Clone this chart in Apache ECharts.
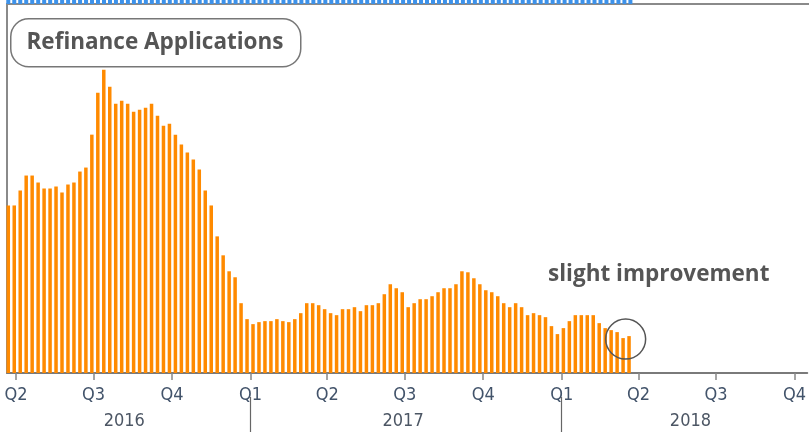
<!DOCTYPE html>
<html>
<head>
<meta charset="utf-8">
<script src="https://cdn.jsdelivr.net/npm/echarts@6.0.0/dist/echarts.min.js"></script>
<style>
  html, body { margin: 0; padding: 0; background: #fff; }
  #main { width: 809px; height: 435px; }
</style>
</head>
<body>
<div id="main"></div>
<script>
// weekly refinance index (relative, y axis hidden), first week 2016-03-23
var firstWeek = [2016, 2, 23];
var refiIndex = [
  840, 840, 915, 990, 990, 955, 925, 925, 935, 905,
  945, 955, 1010, 1030, 1195, 1405, 1520, 1435, 1350, 1365,
  1350, 1310, 1320, 1330, 1350, 1290, 1240, 1250, 1195, 1145,
  1105, 1070, 1020, 915, 840, 685, 590, 510, 480, 350,
  270, 245, 255, 260, 260, 270, 260, 255, 270, 300,
  350, 350, 340, 320, 300, 290, 320, 320, 330, 310,
  340, 340, 350, 395, 445, 425, 405, 330, 350, 370,
  370, 385, 405, 425, 425, 445, 510, 505, 475, 445,
  415, 405, 385, 350, 330, 350, 330, 290, 300, 290,
  280, 235, 195, 225, 260, 290, 290, 290, 290, 250,
  225, 215, 205, 175, 185
];
// bottom edge of the panel above, cut off by the crop
var abovePanel = [
  1, 1, 1, 1, 1, 1, 1, 1, 1, 1, 1, 1, 1, 1, 1,
  1, 1, 1, 1, 1, 1, 1, 1, 1, 1, 1, 1, 1, 1, 1,
  1, 1, 1, 1, 1, 1, 1, 1, 1, 1, 1, 1, 1, 1, 1,
  1, 1, 1, 1, 1, 1, 1, 1, 1, 1, 1, 1, 1, 1, 1,
  1, 1, 1, 1, 1, 1, 1, 1, 1, 1, 1, 1, 1, 1, 1,
  1, 1, 1, 1, 1, 1, 1, 1, 1, 1, 1, 1, 1, 1, 1,
  1, 1, 1, 1, 1, 1, 1, 1, 1, 1, 1, 1, 1, 1, 1
];
var quarterTicks = ['2016-04-01', '2016-07-01', '2016-10-01', '2017-01-01', '2017-04-01', '2017-07-01',
  '2017-10-01', '2018-01-01', '2018-04-01', '2018-07-01', '2018-10-01'];
var yearBreaks = ['2017-01-01', '2018-01-01'];
var yearLabelAt = ['2016-08-06', '2017-06-29', '2018-06-01'];
var circleAt = ['2018-03-17', 170];

function ts(s) { var p = s.split('-'); return new Date(+p[0], +p[1] - 1, +p[2]).getTime(); }

var weeks = [];
for (var i = 0; i < refiIndex.length; i++) {
  weeks.push(new Date(firstWeek[0], firstWeek[1], firstWeek[2] + 7 * i).getTime());
}
var refiData = refiIndex.map(function (v, i) { return [weeks[i], v]; });
var aboveData = abovePanel.map(function (v, i) { return [weeks[i], v]; });

var xMin = new Date(2016, 2, 21, 12).getTime();
var xMax = new Date(2018, 9, 16).getTime();
var labelFont = "'Liberation Sans Narrow', 'DejaVu Sans Condensed', sans-serif";
var noteFont = "bold 22.5px 'Open Sans', sans-serif";

var chart = echarts.init(document.getElementById('main'));
chart.setOption({
  animation: false,
  grid: [
    { left: 7, right: 0, top: 4, bottom: 62 },
    { left: 7, right: 0, top: 0, height: 4 }
  ],
  xAxis: [
    {
      type: 'value', gridIndex: 0, min: xMin, max: xMax,
      axisLine: { lineStyle: { color: '#7a7a7a', width: 2 } },
      axisTick: { show: true, length: 7, customValues: quarterTicks.map(ts), lineStyle: { color: '#888', width: 1.5 } },
      axisLabel: {
        customValues: quarterTicks.map(ts), margin: 13, color: '#42536a', fontSize: 18,
        fontFamily: labelFont,
        formatter: function (v) { return 'Q' + (Math.floor(new Date(v).getMonth() / 3) + 1); }
      },
      splitLine: { show: false }
    },
    {
      type: 'value', gridIndex: 0, min: xMin, max: xMax, position: 'bottom', offset: 24,
      axisLine: { show: false },
      axisTick: { show: true, length: 35, customValues: yearBreaks.map(ts), lineStyle: { color: '#666', width: 1.2 } },
      axisLabel: {
        customValues: yearLabelAt.map(ts), margin: 15, color: '#4c5664', fontSize: 18,
        fontFamily: labelFont,
        formatter: function (v) { return String(new Date(v).getFullYear()); }
      },
      splitLine: { show: false }
    },
    {
      type: 'value', gridIndex: 1, min: xMin, max: xMax,
      axisLine: { lineStyle: { color: '#8a8a8a', width: 2 } },
      axisTick: { show: false }, axisLabel: { show: false }, splitLine: { show: false }
    }
  ],
  yAxis: [
    {
      type: 'value', gridIndex: 0, min: 0, max: 1850,
      axisLine: { show: true, lineStyle: { color: '#8a8a8a', width: 2 } },
      axisTick: { show: false }, axisLabel: { show: false }, splitLine: { show: false }
    },
    {
      type: 'value', gridIndex: 1, min: 0, max: 1,
      axisLine: { show: false }, axisTick: { show: false }, axisLabel: { show: false }, splitLine: { show: false }
    }
  ],
  series: [
    {
      type: 'bar', xAxisIndex: 0, yAxisIndex: 0, data: refiData,
      barWidth: 3.5, itemStyle: { color: '#ff8a00' },
      markPoint: {
        silent: true,
        symbol: 'circle', symbolSize: 40,
        itemStyle: { color: 'rgba(0,0,0,0)', borderColor: '#555', borderWidth: 1.5 },
        label: { show: false },
        data: [{ coord: [ts(circleAt[0]), circleAt[1]] }]
      }
    },
    {
      type: 'bar', xAxisIndex: 2, yAxisIndex: 1, data: aboveData,
      barWidth: 4, itemStyle: { color: '#3d92ea' }
    }
  ],
  graphic: [
    {
      type: 'rect', left: 10, top: 18, z: 10,
      shape: { width: 290, height: 48, r: 18 },
      style: { fill: '#fff', stroke: '#777', lineWidth: 1.5 }
    },
    {
      type: 'text', x: 155, y: 43, z: 11,
      style: {
        text: 'Refinance Applications', fill: '#555', font: noteFont,
        textAlign: 'center', textVerticalAlign: 'middle'
      }
    },
    {
      type: 'text', x: 548, y: 275, z: 11,
      style: {
        text: 'slight improvement', fill: '#555', font: noteFont,
        textAlign: 'left', textVerticalAlign: 'middle'
      }
    }
  ]
});
</script>
</body>
</html>
